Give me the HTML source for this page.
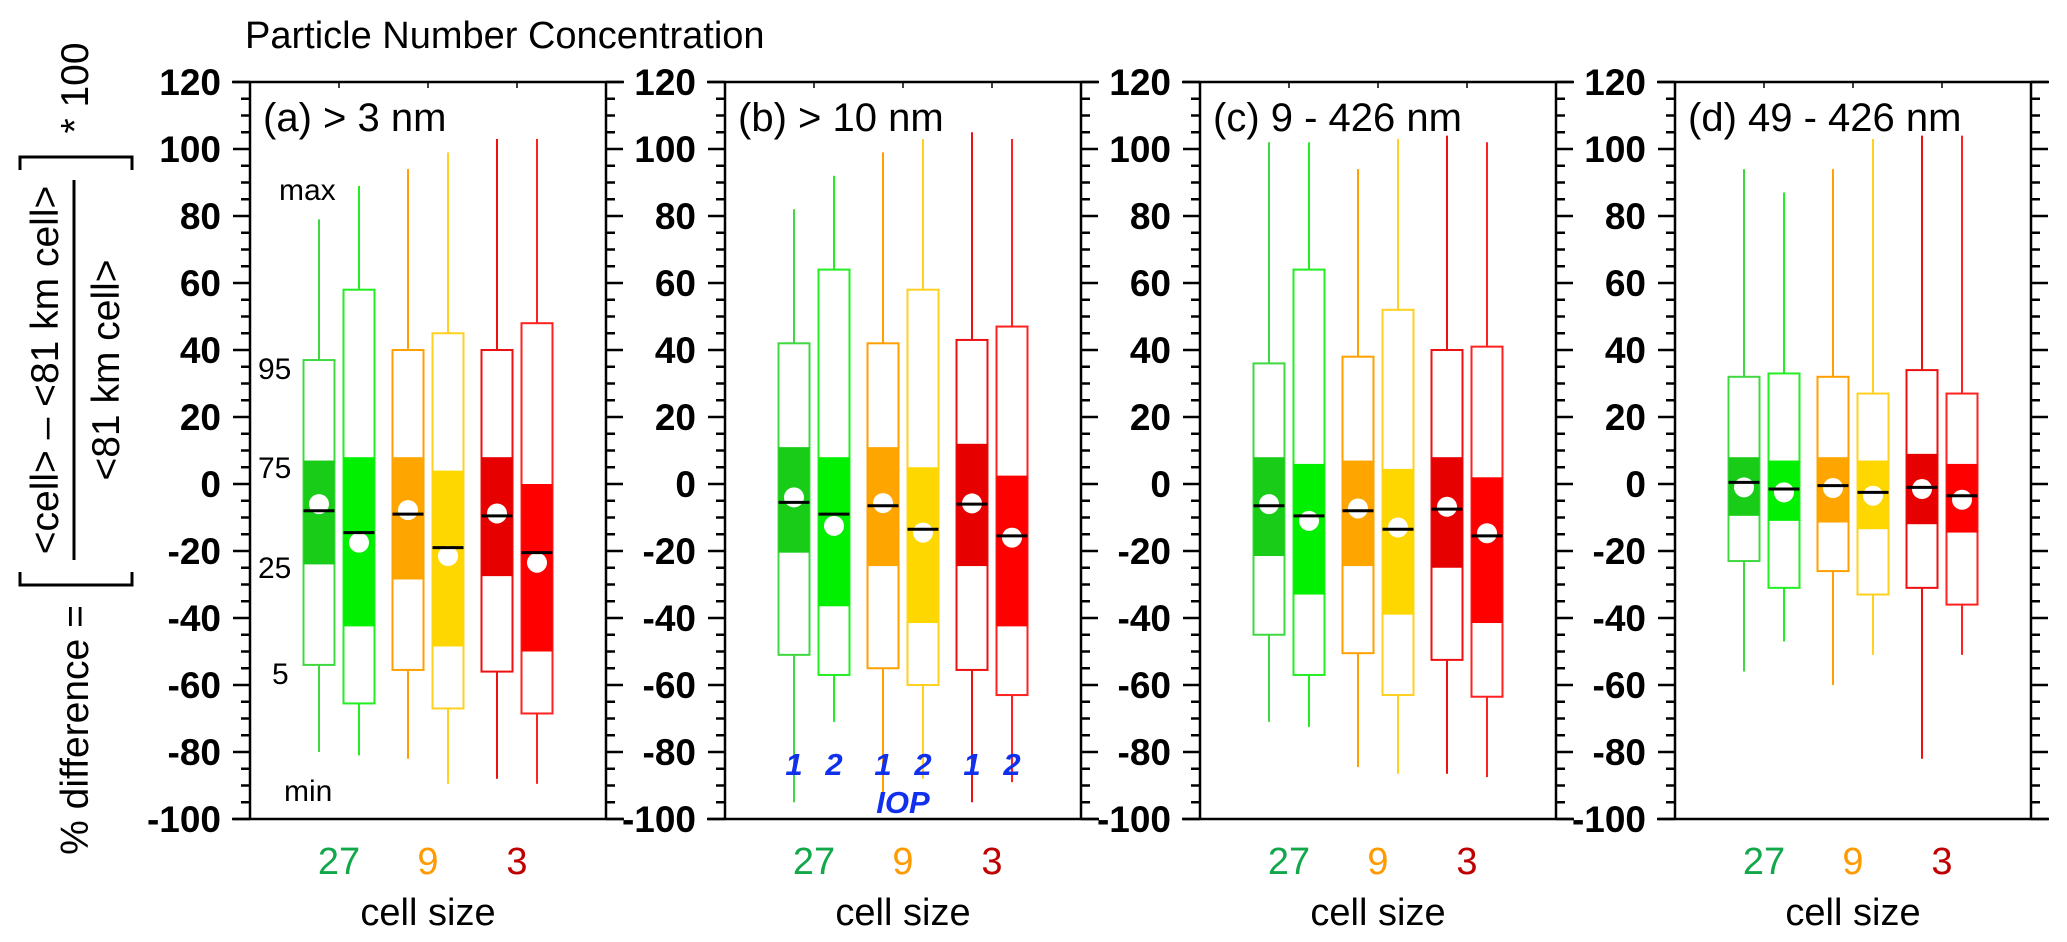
<!DOCTYPE html>
<html><head><meta charset="utf-8">
<style>
html,body{margin:0;padding:0;background:#fff;}
svg{display:block;font-family:"Liberation Sans",Arial,sans-serif;}
</style></head>
<body>
<svg id="chart" width="2067" height="942" viewBox="0 0 2067 942" xmlns="http://www.w3.org/2000/svg">
<text x="245" y="48" font-size="38">Particle Number Concentration</text>
<g font-size="39">
  <text transform="translate(88,730) rotate(-90)" text-anchor="middle">% difference =</text>
  <path d="M20,572 L20,585 L132,585 L132,572" fill="none" stroke="#000" stroke-width="3"/>
  <path d="M20,170 L20,157 L132,157 L132,170" fill="none" stroke="#000" stroke-width="3"/>
  <text transform="translate(58,370) rotate(-90)" text-anchor="middle">&lt;cell&gt; – &lt;81 km cell&gt;</text>
  <line x1="74" y1="180" x2="74" y2="560" stroke="#000" stroke-width="3"/>
  <text transform="translate(119,370) rotate(-90)" text-anchor="middle">&lt;81 km cell&gt;</text>
  <text transform="translate(88,88) rotate(-90)" text-anchor="middle">* 100</text>
</g>
<g id="panels"></g>
</svg>
<script>
const panelNames = ["(a) > 3 nm", "(b) > 10 nm", "(c) 9 - 426 nm", "(d) 49 - 426 nm"];
const categories = ["27", "9", "3"];
const iops = ["1", "2"];
const yTicks = [120, 100, 80, 60, 40, 20, 0, -20, -40, -60, -80, -100];
const maxVals = [
  [79, 89, 94, 99, 103, 103],
  [82, 92, 99, 103, 105, 103],
  [102, 102, 94, 103, 104, 102],
  [94, 87, 94, 103, 104, 104]];
const p95Vals = [
  [37, 58, 40, 45, 40, 48],
  [42, 64, 42, 58, 43, 47],
  [36, 64, 38, 52, 40, 41],
  [32, 33, 32, 27, 34, 27]];
const p75Vals = [
  [7, 8, 8, 4, 8, 0],
  [11, 8, 11, 5, 12, 2.5],
  [8, 6, 7, 4.5, 8, 2],
  [8, 7, 8, 7, 9, 6]];
const medianVals = [
  [-8, -14.5, -9, -19, -9.5, -20.5],
  [-5.5, -9, -6.5, -13.5, -6, -15.5],
  [-6.5, -9.5, -8, -13.5, -7.5, -15.5],
  [0.5, -1.5, -0.5, -2.5, -1, -3.5]];
const meanVals = [
  [-6, -17.5, -7.8, -21.5, -8.8, -23.5],
  [-4, -12.5, -5.7, -14.5, -5.8, -16],
  [-6, -11, -7.3, -13, -6.8, -14.7],
  [-1, -2.5, -1.2, -3.5, -1.5, -4.7]];
const p25Vals = [
  [-24, -42.5, -28.5, -48.5, -27.5, -50],
  [-20.5, -36.5, -24.5, -41.5, -24.5, -42.5],
  [-21.5, -33, -24.5, -39, -25, -41.5],
  [-9.5, -11, -11.5, -13.5, -12, -14.5]];
const p5Vals = [
  [-54, -65.5, -55.5, -67, -56, -68.5],
  [-51, -57, -55, -60, -55.5, -63],
  [-45, -57, -50.5, -63, -52.5, -63.5],
  [-23, -31, -26, -33, -31, -36]];
const minVals = [
  [-80, -81, -82, -89.5, -88, -89.5],
  [-95, -71, -93, -88, -95, -89],
  [-71, -72.5, -84.5, -86.5, -86.5, -87.5],
  [-56, -47, -60, -51, -82, -51]];

const NS = "http://www.w3.org/2000/svg";
const panelLefts = [250, 725, 1200, 1675];
const panelW = 356, top0 = 82, bot0 = 819, yMin = -100, yMax = 120;
const fills = ["#18cc18", "#00f000", "#ffa500", "#ffd700", "#e60000", "#ff0000"];
const strokes = ["#40d840", "#22ee22", "#ffa000", "#ffd020", "#ee1010", "#ff2020"];
const catColors = ["#12a84a", "#ff9a00", "#c00000"];
function yScale(v){ return bot0 - (v - yMin) / (yMax - yMin) * (bot0 - top0); }
function xCat(p, c){ return panelLefts[p] + (c + 1) * panelW / 4; }
function xBox(p, b){ return xCat(p, Math.floor(b / 2)) + (b % 2 === 0 ? -20 : 20); }
function mk(tag, attrs, parent){
  const e = document.createElementNS(NS, tag);
  for (const k in attrs) e.setAttribute(k, attrs[k]);
  parent.appendChild(e); return e;
}
const root = document.getElementById("panels");
for (let p = 0; p < 4; p++){
  const L = panelLefts[p], R = L + panelW;
  const g = mk("g", {}, root);
  
  
  const fr = mk("g", {stroke: "#000", "stroke-width": 2.5, fill: "none"}, g);
  
  
  mk("line", {x1: L - 18, y1: top0, x2: R + 18, y2: top0}, fr);
  mk("line", {x1: L - 18, y1: bot0, x2: R + 18, y2: bot0}, fr);
  mk("line", {x1: L, y1: top0, x2: L, y2: bot0}, fr);
  mk("line", {x1: R, y1: top0, x2: R, y2: bot0}, fr);
  for (let v = yMin; v <= yMax; v += 5){
    const y = yScale(v), major = (v % 20 === 0), len = major ? 17 : 9;
    mk("line", {x1: L - len, y1: y, x2: L, y2: y}, fr);
    mk("line", {x1: R, y1: y, x2: R + len, y2: y}, fr);
  }
  for (let c = 0; c < 3; c++){
    mk("line", {x1: xCat(p, c), y1: top0, x2: xCat(p, c), y2: top0 + 6, "stroke-width": 1.5}, fr);
  }
  yTicks.forEach(t => {
    const tx = mk("text", {x: L - 29, y: yScale(t) + 13, "text-anchor": "end", "font-size": 37, "font-weight": "bold"}, g);
    
    
    tx.textContent = t;
  });
  const pl = mk("text", {x: L + 13, y: 131, "font-size": 40}, g);
  
  
  pl.textContent = panelNames[p];
  for (let b = 0; b < 6; b++){
    const x = xBox(p, b), hw = 15.5;
    const bg = mk("g", {}, g);
    
    
    mk("line", {x1: x, y1: yScale(maxVals[p][b]), x2: x, y2: yScale(p95Vals[p][b]), stroke: strokes[b], "stroke-width": 2}, bg);
    mk("line", {x1: x, y1: yScale(p5Vals[p][b]), x2: x, y2: yScale(minVals[p][b]), stroke: strokes[b], "stroke-width": 2}, bg);
    mk("rect", {x: x - hw, y: yScale(p95Vals[p][b]), width: 2*hw, height: yScale(p5Vals[p][b]) - yScale(p95Vals[p][b]), fill: "#fff", stroke: strokes[b], "stroke-width": 2}, bg);
    mk("rect", {x: x - hw, y: yScale(p75Vals[p][b]), width: 2*hw, height: yScale(p25Vals[p][b]) - yScale(p75Vals[p][b]), fill: fills[b]}, bg);
    mk("circle", {cx: x, cy: yScale(meanVals[p][b]), r: 10, fill: "#fff"}, bg);
    mk("line", {x1: x - hw, y1: yScale(medianVals[p][b]), x2: x + hw, y2: yScale(medianVals[p][b]), stroke: "#000", "stroke-width": 3}, bg);
  }
  for (let c = 0; c < 3; c++){
    const t = mk("text", {x: xCat(p, c), y: 874, "text-anchor": "middle", "font-size": 38, fill: catColors[c]}, g);
    
    
    t.textContent = categories[c];
  }
  const xl = mk("text", {x: L + panelW/2, y: 925, "text-anchor": "middle", "font-size": 38}, g);
  
  
  xl.textContent = "cell size";
  if (p === 1){
    for (let b = 0; b < 6; b++){
      const t = mk("text", {x: xBox(p, b), y: 775, "text-anchor": "middle", "font-size": 31, "font-weight": "bold", "font-style": "italic", fill: "#1030ee"}, g);
      
      
      t.textContent = iops[b % 2];
    }
    const t = mk("text", {x: xCat(p, 1), y: 813, "text-anchor": "middle", "font-size": 31, "font-weight": "bold", "font-style": "italic", fill: "#1030ee"}, g);
    
    
    t.textContent = "IOP";
  }
  if (p === 0){
    const ann = [["max", 279, 200], ["95", 258, 379], ["75", 258, 478], ["25", 258, 578], ["5", 272, 684], ["min", 284, 801]];
    ann.forEach(a => {
      const t = mk("text", {x: a[1], y: a[2], "font-size": 30}, g);
      
      
      t.textContent = a[0];
    });
  }
}
</script>
</body></html>
